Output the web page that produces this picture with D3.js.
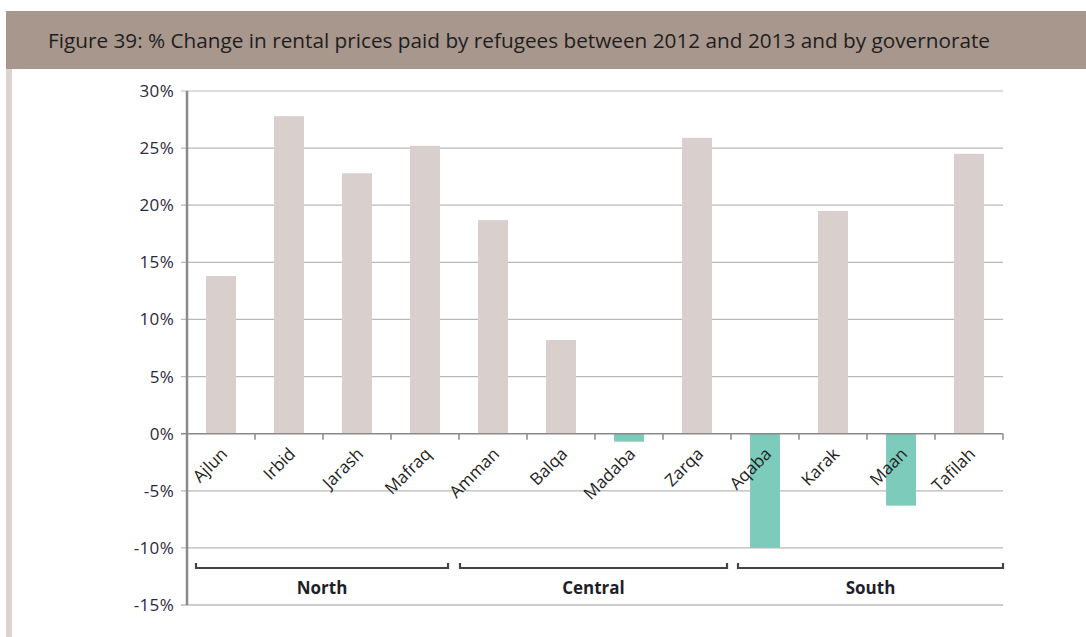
<!DOCTYPE html>
<html>
<head>
<meta charset="utf-8">
<script src="https://cdn.jsdelivr.net/npm/d3@7"></script>
<style>
  body { margin: 0; background: #fff; }
  svg { display: block; }
</style>
</head>
<body>
<div id="chart"></div>
<script>
// governorates and their % change
const governorates = ["Ajlun", "Irbid", "Jarash", "Mafraq", "Amman", "Balqa", "Madaba", "Zarqa", "Aqaba", "Karak", "Maan", "Tafilah"];
const changes = [13.8, 27.8, 22.8, 25.2, 18.7, 8.2, -0.7, 25.9, -10.0, 19.5, -6.3, 24.5];
const regions = ["North", "Central", "South"];
const regionSpans = [[0, 3], [4, 7], [8, 11]];
const yTicks = [30, 25, 20, 15, 10, 5, 0, -5, -10, -15];
const title = "Figure 39: % Change in rental prices paid by refugees between 2012 and 2013 and by governorate";

const width = 1086, height = 637;
const plot = { left: 187, right: 1003, top: 91, bottom: 605 };

const svg = d3.select("#chart").append("svg")
  .attr("width", width)
  .attr("height", height)
  .style("font-family", "'Open Sans', sans-serif");

// header band
svg.append("rect").attr("x", 6).attr("y", 11).attr("width", width - 6).attr("height", 58).attr("fill", "#a8978d");
svg.append("text")
  .attr("x", 48).attr("y", 48)
  .attr("font-size", 20)
  .attr("fill", "#1e1e1e")
  .attr("textLength", 942)
  .attr("lengthAdjust", "spacingAndGlyphs")
  .text(title);

// left strip
svg.append("rect").attr("x", 6).attr("y", 69).attr("width", 6).attr("height", height - 69).attr("fill", "#ddd4d0");

const x = d3.scaleBand().domain(governorates).range([plot.left, plot.right]).paddingInner(0.56).paddingOuter(0.28);
const xStep = d3.scaleBand().domain(governorates).range([plot.left, plot.right]);
const y = d3.scaleLinear().domain([-15, 30]).range([plot.bottom, plot.top]);

// gridlines
svg.append("g").selectAll("line")
  .data(yTicks.filter(d => d !== 0))
  .join("line")
  .attr("x1", plot.left - 6).attr("x2", plot.right)
  .attr("y1", d => y(d)).attr("y2", d => y(d))
  .attr("stroke", d => d === -15 ? "#999" : "#b9b9b9")
  .attr("stroke-width", 1.2);

// y tick labels
svg.append("g").selectAll("text")
  .data(yTicks)
  .join("text")
  .attr("x", plot.left - 13)
  .attr("y", d => y(d))
  .attr("dy", "0.35em")
  .attr("text-anchor", "end")
  .attr("font-size", 17)
  .attr("letter-spacing", 0.3)
  .attr("fill", "#2a2a3a")
  .text(d => d + "%");

// bars
svg.append("g").selectAll("rect")
  .data(governorates)
  .join("rect")
  .attr("x", d => x(d))
  .attr("width", x.bandwidth())
  .attr("y", (d, i) => y(Math.max(0, changes[i])))
  .attr("height", (d, i) => Math.abs(y(changes[i]) - y(0)))
  .attr("fill", (d, i) => changes[i] < 0 ? "#7ccbbb" : "#d9d0cd");

// zero line with category ticks
svg.append("line")
  .attr("x1", plot.left - 6).attr("x2", plot.right)
  .attr("y1", y(0)).attr("y2", y(0))
  .attr("stroke", "#8a8a8a").attr("stroke-width", 1.5);
svg.append("g").selectAll("line")
  .data(governorates.slice(1).concat(["end"]))
  .join("line")
  .attr("x1", (d, i) => plot.left + (i + 1) * xStep.step())
  .attr("x2", (d, i) => plot.left + (i + 1) * xStep.step())
  .attr("y1", y(0)).attr("y2", y(0) + 6)
  .attr("stroke", "#8a8a8a").attr("stroke-width", 1.5);

// y axis line
svg.append("line")
  .attr("x1", plot.left).attr("x2", plot.left)
  .attr("y1", plot.top).attr("y2", plot.bottom)
  .attr("stroke", "#8a8a8a").attr("stroke-width", 2.5);

// rotated category labels
svg.append("g").selectAll("text")
  .data(governorates)
  .join("text")
  .attr("transform", d => `translate(${x(d) + x.bandwidth() / 2 - 1},${y(0) + 13}) rotate(-45)`)
  .attr("text-anchor", "end")
  .attr("dy", "0.7em")
  .attr("font-size", 17)
  .attr("fill", "#222")
  .text(d => d);

// region brackets (small gaps between neighbouring groups)
const bracketY = 568;
const bracketInsets = [[9, -11], [1, -4], [7, 0]];
const brackets = svg.append("g");
regionSpans.forEach(([a, b], k) => {
  const x0 = plot.left + a * xStep.step() + bracketInsets[k][0];
  const x1 = plot.left + (b + 1) * xStep.step() + bracketInsets[k][1];
  brackets.append("path")
    .attr("d", `M${x0},${bracketY - 5}V${bracketY}H${x1}V${bracketY - 5}`)
    .attr("fill", "none")
    .attr("stroke", "#444")
    .attr("stroke-width", 2.2);
  brackets.append("text")
    .attr("x", (x0 + x1) / 2)
    .attr("y", 594)
    .attr("text-anchor", "middle")
    .attr("font-size", 17)
    .attr("font-weight", "bold")
    .attr("fill", "#1e1e2a")
    .text(regions[k]);
});
</script>
</body>
</html>
